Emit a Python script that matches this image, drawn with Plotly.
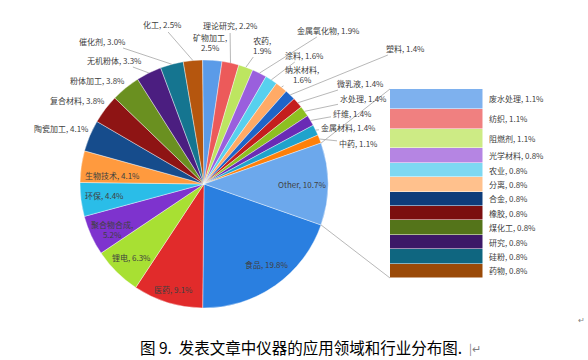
import math
import plotly.graph_objects as go

# ---------------- data ----------------
pie_labels = ["食品", "医药", "锂电", "聚合物合成", "环保", "生物技术", "陶瓷加工", "复合材料",
              "粉体加工", "无机粉体", "催化剂", "化工", "矿物加工", "理论研究", "农药", "金属氧化物",
              "涂料", "纳米材料", "塑料", "微乳液", "水处理", "纤维", "金属材料", "中药", "Other"]
pie_values = [19.8, 9.1, 6.3, 5.2, 4.4, 4.1, 4.1, 3.8, 3.8, 3.3, 3.0, 2.5, 2.5, 2.2, 1.9, 1.9,
              1.6, 1.6, 1.4, 1.4, 1.4, 1.4, 1.4, 1.1, 10.7]
pie_colors = ["#2A7FE0", "#E12B2B", "#A8E033", "#7E33CE", "#2ABDE8", "#FF9A3E",
              "#164C8C", "#8E1414", "#6A9020", "#4B1E80", "#157590", "#B5560E",
              "#5B9BE8", "#EC5A5A", "#BDE560", "#9A5FDD", "#57D0EE", "#FFAA66",
              "#1E64C8", "#C41E1E", "#8DC021", "#6A2BB5", "#1FA3CC", "#FF800A",
              "#6CA8EC"]

bar_labels = ["废水处理", "纺织", "阻燃剂", "光学材料", "农业", "分离", "合金", "橡胶",
              "煤化工", "研究", "硅粉", "药物"]
bar_values = [1.1, 1.1, 1.1, 0.8, 0.8, 0.8, 0.8, 0.8, 0.8, 0.8, 0.8, 0.8]
bar_colors = ["#7EB1EE", "#F08080", "#CDEB85", "#B585E3", "#7DD8F2", "#FFC18D",
              "#0E3C7A", "#7B0F0F", "#54741A", "#3C1867", "#0F6680", "#9A4A08"]

caption = "图 9.  发表文章中仪器的应用领域和行业分布图."

# ---------------- layout (pixels) ----------------
W, H = 588, 360
PIE_BOX = (80, 60, 328, 308)     # x0, y0, x1, y1
BAR_BOX = (390, 89, 483, 278)
FONT = "Noto Sans CJK SC"
LABEL_COLOR = "#404040"
LINE_COLOR = "#A6A6A6"
FS = 8

# label placement: name -> (center x, center y, leader line?, line break?)
label_place = {
    "化工": (162, 25, True, False),
    "理论研究": (230, 26, True, False),
    "矿物加工": (210, 42, False, True),
    "催化剂": (102, 41, True, False),
    "无机粉体": (114, 60, True, False),
    "粉体加工": (97, 80, False, False),
    "复合材料": (77, 100, False, False),
    "陶瓷加工": (61, 128, False, False),
    "生物技术": (112, 175, False, False),
    "环保": (104, 196, False, False),
    "聚合物合成": (112, 229, False, True),
    "锂电": (131, 257, False, False),
    "医药": (173, 289, False, False),
    "食品": (267, 264, False, False),
    "Other": (302, 185, False, False),
    "农药": (262, 45, True, True),
    "金属氧化物": (328, 30, True, False),
    "涂料": (304, 55, True, False),
    "纳米材料": (302, 74, True, True),
    "塑料": (405, 48, True, False),
    "微乳液": (360, 83, True, False),
    "水处理": (363, 99, True, False),
    "纤维": (352, 113, True, False),
    "金属材料": (348, 127, True, False),
    "中药": (358, 143, True, False),
}


def px_to_paper(x, y):
    return x / W, 1 - y / H


total = sum(pie_values)
other_frac = pie_values[-1] / total
rotation = 90 + 180 * other_frac   # centre the "Other" slice at 3 o'clock

cx = (PIE_BOX[0] + PIE_BOX[2]) / 2
cy = (PIE_BOX[1] + PIE_BOX[3]) / 2
r = min(PIE_BOX[2] - PIE_BOX[0], PIE_BOX[3] - PIE_BOX[1]) / 2

fig = go.Figure()

fig.add_trace(go.Pie(
    labels=pie_labels, values=pie_values, sort=False, direction="clockwise",
    rotation=rotation, textinfo="none", hoverinfo="skip",
    marker=dict(colors=pie_colors, line=dict(color="white", width=0.4)),
    domain=dict(x=[PIE_BOX[0] / W, PIE_BOX[2] / W], y=[1 - PIE_BOX[3] / H, 1 - PIE_BOX[1] / H]),
    showlegend=False,
))

# stacked bar (top item first in list -> stack bottom-up reversed)
for lab, val, col in reversed(list(zip(bar_labels, bar_values, bar_colors))):
    fig.add_trace(go.Bar(x=[0], y=[val], width=1, marker=dict(color=col, line=dict(color="white", width=0.5)),
                         hoverinfo="skip", showlegend=False))

annotations = []
lab_font = dict(size=FS, color=LABEL_COLOR, family=FONT)

# pie labels
cum = 0.0
for lab, val in zip(pie_labels, pie_values):
    mid = rotation + 360 * (cum + val / 2) / total
    cum += val
    lx, ly, leader, brk = label_place[lab]
    text = f"{lab},{'<br>' if brk else ' '}{val:.1f}%"
    if leader:
        a = math.radians(mid)
        ex = cx + r * math.sin(a)
        ey = cy - r * math.cos(a)
        px, py = px_to_paper(ex, ey)
        annotations.append(dict(x=px, y=py, xref="paper", yref="paper", text=text,
                                showarrow=True, arrowhead=0, arrowwidth=0.8, arrowcolor=LINE_COLOR,
                                ax=lx - ex, ay=ly - ey, standoff=0,
                                xanchor="center", yanchor="middle", font=lab_font))
    else:
        px, py = px_to_paper(lx, ly)
        annotations.append(dict(x=px, y=py, xref="paper", yref="paper", text=text, showarrow=False,
                                xanchor="center", yanchor="middle", font=lab_font))

# bar labels
bar_total = sum(bar_values)
top = bar_total
for lab, val in zip(bar_labels, bar_values):
    center = top - val / 2
    top -= val
    annotations.append(dict(x=(BAR_BOX[2] + 4) / W, y=center, xref="paper", yref="y",
                            text=f"{lab}, {val:.1f}%", showarrow=False, xanchor="left", yanchor="middle",
                            font=lab_font))

# caption
cap_x, cap_y = px_to_paper(301, 347)
annotations.append(dict(x=cap_x, y=cap_y, xref="paper", yref="paper", text=caption, showarrow=False,
                        xanchor="center", yanchor="middle",
                        font=dict(size=15.5, color="black", family=FONT)))
rx, ry = px_to_paper(467, 348)
annotations.append(dict(x=rx, y=ry, xref="paper", yref="paper", text="|↵", showarrow=False,
                        xanchor="left", yanchor="middle",
                        font=dict(size=11, color="#7F7F7F", family=FONT)))
rx2, ry2 = px_to_paper(587, 319)
annotations.append(dict(x=rx2, y=ry2, xref="paper", yref="paper", text="↵", showarrow=False,
                        xanchor="right", yanchor="middle",
                        font=dict(size=8, color="#7F7F7F", family=FONT)))

# connector lines between "Other" slice and the bar
shapes = []
a_start = math.radians(rotation - 360 * other_frac)
a_end = math.radians(rotation)
for ang, by in ((a_start, BAR_BOX[1]), (a_end, BAR_BOX[3])):
    ex = cx + r * math.sin(ang)
    ey = cy - r * math.cos(ang)
    x0, y0 = px_to_paper(ex, ey)
    x1, y1 = px_to_paper(BAR_BOX[0], by)
    shapes.append(dict(type="line", xref="paper", yref="paper", x0=x0, y0=y0, x1=x1, y1=y1,
                       line=dict(color=LINE_COLOR, width=0.8)))

fig.update_layout(
    width=W, height=H, margin=dict(l=0, r=0, t=0, b=0),
    paper_bgcolor="white", plot_bgcolor="white",
    font=dict(family=FONT, color=LABEL_COLOR),
    barmode="stack", bargap=0,
    xaxis=dict(domain=[BAR_BOX[0] / W, BAR_BOX[2] / W], range=[-0.5, 0.5], visible=False, fixedrange=True),
    yaxis=dict(domain=[1 - BAR_BOX[3] / H, 1 - BAR_BOX[1] / H], range=[0, bar_total], visible=False,
               fixedrange=True),
    annotations=annotations, shapes=shapes, showlegend=False,
)

fig.write_html("out.html", config={"displayModeBar": False},
               post_script="document.body.style.margin='0';document.body.style.overflow='hidden';")
